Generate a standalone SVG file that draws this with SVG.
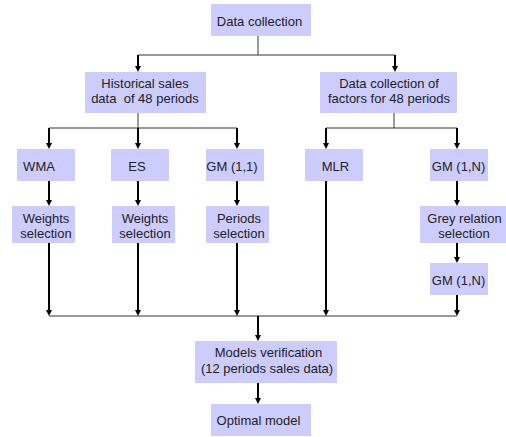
<svg xmlns="http://www.w3.org/2000/svg" width="506" height="437" viewBox="0 0 506 437">
<style>
.box{fill:#ccccff}
text{font-family:"Liberation Sans",Arial,sans-serif;font-size:13px;fill:#222;text-anchor:middle}
.stem{stroke:#666;stroke-width:1.3;fill:none}
.bus{stroke:#333;stroke-width:1.2;fill:none}
.arr{stroke:#000;stroke-width:2;fill:none;marker-end:url(#ah)}
</style>
<defs>
<marker id="ah" viewBox="0 0 6 6" refX="0" refY="3" markerWidth="6" markerHeight="6" markerUnits="userSpaceOnUse" orient="auto">
<path d="M0,0 L6,3 L0,6 z" fill="#000"/>
</marker>
</defs>
<g id="connectors">
<line class="stem" x1="258" y1="36" x2="258" y2="55"/>
<line class="bus" x1="138" y1="55" x2="395" y2="55"/>
<line class="arr" x1="138" y1="55" x2="138" y2="66"/>
<line class="arr" x1="395" y1="55" x2="395" y2="66"/>
<line class="stem" x1="138" y1="113" x2="138" y2="128"/>
<line class="bus" x1="49" y1="128" x2="237" y2="128"/>
<line class="arr" x1="49" y1="128" x2="49" y2="143"/>
<line class="arr" x1="138" y1="128" x2="138" y2="143"/>
<line class="arr" x1="237" y1="128" x2="237" y2="143"/>
<line class="stem" x1="394" y1="113" x2="394" y2="128"/>
<line class="bus" x1="326" y1="128" x2="457" y2="128"/>
<line class="arr" x1="326" y1="128" x2="326" y2="143"/>
<line class="arr" x1="457" y1="128" x2="457" y2="143"/>
<line class="arr" x1="49" y1="181" x2="49" y2="200"/>
<line class="arr" x1="138" y1="181" x2="138" y2="200"/>
<line class="arr" x1="237" y1="181" x2="237" y2="200"/>
<line class="arr" x1="457" y1="181" x2="457" y2="200"/>
<line class="arr" x1="457" y1="243" x2="457" y2="257"/>
<line class="arr" x1="49" y1="243" x2="49" y2="310"/>
<line class="arr" x1="138" y1="243" x2="138" y2="310"/>
<line class="arr" x1="237" y1="243" x2="237" y2="310"/>
<line class="arr" x1="326" y1="181" x2="326" y2="310"/>
<line class="arr" x1="457" y1="295" x2="457" y2="310"/>
<line class="bus" x1="49" y1="316" x2="457" y2="316"/>
<line class="arr" x1="258" y1="316" x2="258" y2="335"/>
<line class="arr" x1="258" y1="383" x2="258" y2="398"/>
</g>
<g id="data-collection"><rect class="box" x="211" y="4" width="100" height="32"/><text x="259.5" y="26">Data collection</text></g>
<g id="historical"><rect class="box" x="85" y="72" width="121" height="41"/><text x="145" y="87.5">Historical sales</text><text x="145" y="102.5" xml:space="preserve">data  of 48 periods</text></g>
<g id="factors"><rect class="box" x="320" y="72" width="137" height="41"/><text x="389" y="87.5">Data collection of</text><text x="389" y="102.5">factors for 48 periods</text></g>
<g id="wma"><rect class="box" x="17" y="149" width="58" height="32"/><text x="39" y="171">WMA</text></g>
<g id="es"><rect class="box" x="111" y="149" width="58" height="32"/><text x="137" y="171">ES</text></g>
<g id="gm11"><rect class="box" x="206" y="149" width="58" height="32"/><text x="232" y="171">GM (1,1)</text></g>
<g id="mlr"><rect class="box" x="305" y="149" width="58" height="32"/><text x="335.5" y="171">MLR</text></g>
<g id="gm1n"><rect class="box" x="430" y="149" width="58" height="32"/><text x="458.5" y="171">GM (1,N)</text></g>
<g id="weights1"><rect class="box" x="12" y="206" width="63" height="37"/><text x="46" y="223">Weights</text><text x="46" y="238">selection</text></g>
<g id="weights2"><rect class="box" x="112" y="206" width="63" height="37"/><text x="145" y="223">Weights</text><text x="145" y="238">selection</text></g>
<g id="periods"><rect class="box" x="206" y="206" width="63" height="37"/><text x="239" y="223">Periods</text><text x="239" y="238">selection</text></g>
<g id="grey"><rect class="box" x="420" y="206" width="86" height="37"/><text x="464.5" y="223">Grey relation</text><text x="464" y="238">selection</text></g>
<g id="gm1n-2"><rect class="box" x="430" y="263" width="58" height="32"/><text x="458.5" y="285">GM (1,N)</text></g>
<g id="verification"><rect class="box" x="195" y="341" width="142" height="42"/><text x="268.5" y="356.5">Models verification</text><text x="267" y="372.5">(12 periods sales data)</text></g>
<g id="optimal"><rect class="box" x="211" y="404" width="100" height="32"/><text x="258.5" y="424.5">Optimal model</text></g>
</svg>
